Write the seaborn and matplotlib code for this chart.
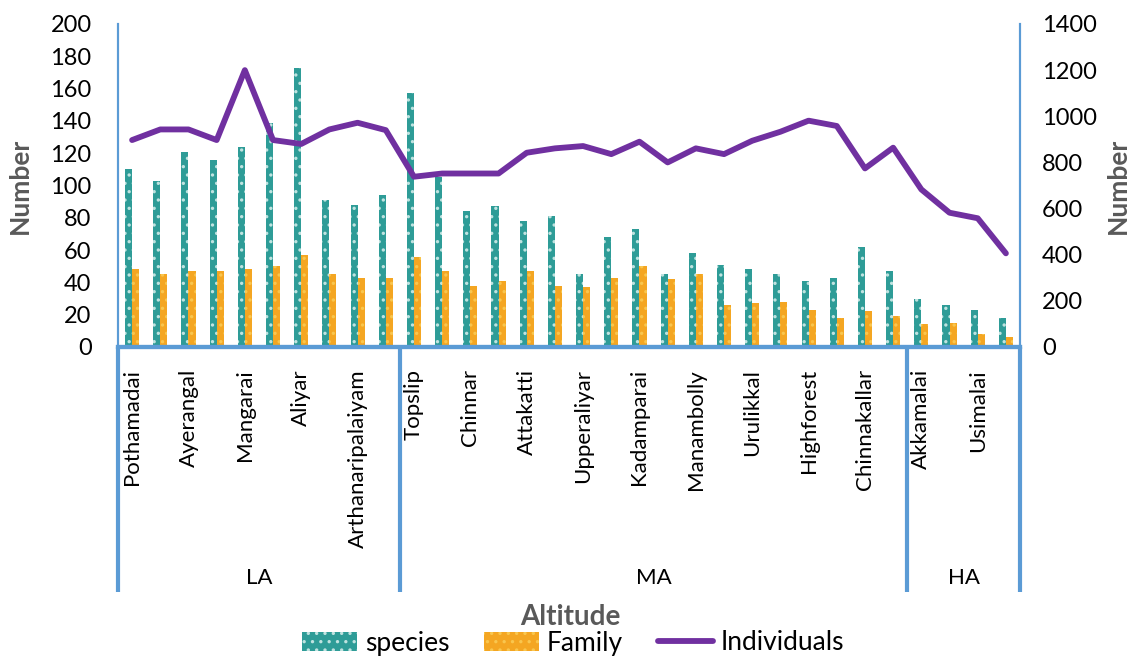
import matplotlib
matplotlib.use("Agg")
import matplotlib.pyplot as plt
import matplotlib.transforms as mtransforms
from matplotlib.patches import Patch
from matplotlib.lines import Line2D
import numpy as np
import pandas as pd
import seaborn as sns

# Sampling sites, ordered by altitude zone (only every other name is printed on the axis)
site_labels = [
    "Pothamadai", "", "Ayerangal", "", "Mangarai", "", "Aliyar", "", "Arthanaripalaiyam", "",
    "Topslip", "", "Chinnar", "", "Attakatti", "", "Upperaliyar", "", "Kadamparai", "",
    "Manambolly", "", "Urulikkal", "", "Highforest", "", "Chinnakallar", "",
    "Akkamalai", "", "Usimalai", "",
]
zones = ["LA", "MA", "HA"]
zone_sizes = [10, 18, 4]

species = [110, 103, 121, 116, 124, 139, 173, 91, 88, 94,
           157, 105, 84, 87, 78, 81, 45, 68, 73, 45, 58, 51, 48, 45, 41, 43, 62, 47,
           30, 26, 23, 18]
family = [48, 45, 47, 47, 48, 50, 57, 45, 43, 43,
          56, 47, 38, 41, 47, 38, 37, 43, 50, 42, 45, 26, 27, 28, 23, 18, 22, 19,
          14, 15, 8, 6]
individuals = [897, 943, 943, 897, 1200, 897, 880, 943, 972, 940,
               738, 752, 752, 752, 842, 861, 871, 836, 890, 800, 861, 836, 894, 933, 981, 958, 774, 864,
               683, 582, 558, 406]

TEAL = "#2E9C97"
ORANGE = "#F4A622"
PURPLE = "#7030A0"
FRAME = "#5B9BD5"
GREY = "#595959"

sns.set_theme(style="white")
plt.rcParams["font.family"] = ["Lato", "DejaVu Sans"]
plt.rcParams["hatch.linewidth"] = 1.2
plt.rcParams["text.color"] = "black"
plt.rcParams["xtick.color"] = "black"
plt.rcParams["ytick.color"] = "black"

n = len(species)
pos = list(range(n))
df = pd.DataFrame({
    "pos": pos * 2,
    "value": species + family,
    "series": ["species"] * n + ["Family"] * n,
})

fig = plt.figure(figsize=(11.29, 6.64), dpi=100)
ax = fig.add_axes([118 / 1129, 1 - 347 / 664, (1020 - 118) / 1129, (347 - 24) / 664])

sns.barplot(data=df, x="pos", y="value", hue="series", hue_order=["species", "Family"],
            palette={"species": TEAL, "Family": ORANGE}, width=0.5, ax=ax,
            legend=False, saturation=1)

for bar in ax.containers[0]:
    bar.set_hatch("..")
    bar.set_edgecolor("#BFE3E0")
    bar.set_linewidth(0)
for bar in ax.containers[1]:
    bar.set_hatch("..")
    bar.set_edgecolor("#F9C64E")
    bar.set_linewidth(0)

ax2 = ax.twinx()
sns.lineplot(x=pos, y=individuals, color=PURPLE, lw=4.2, ax=ax2)

ax.set_xlim(-0.5, n - 0.5)
ax.set_ylim(0, 200)
ax2.set_ylim(0, 1400)
ax.set_yticks(np.arange(0, 201, 20))
ax2.set_yticks(np.arange(0, 1401, 200))
ax.set_xticks(pos)
ax.set_xticklabels(site_labels, rotation=90, fontsize=16, va="top", color="black")
ax.tick_params(axis="x", length=0, pad=16, labelcolor="black")
ax.tick_params(axis="y", length=0, labelsize=17, pad=19, labelcolor="black")
ax2.tick_params(axis="y", length=0, labelsize=17, pad=16, labelcolor="black")
ax.set_xlabel("")
ax.set_ylabel("")
ax2.set_ylabel("")

for a in (ax, ax2):
    a.spines["top"].set_visible(False)
    a.spines["left"].set_color(FRAME)
    a.spines["right"].set_color(FRAME)
    a.spines["left"].set_linewidth(1.5)
    a.spines["right"].set_linewidth(1.5)
    a.spines["bottom"].set_color(FRAME)
    a.spines["bottom"].set_linewidth(3)
    a.grid(False)

# Zone brackets under the site names
trans = mtransforms.blended_transform_factory(ax.transData, ax.transAxes)
edges = np.concatenate([[0], np.cumsum(zone_sizes)]) - 0.5
for e in edges:
    ax.plot([e, e], [0, -0.76], color=FRAME, lw=3, transform=trans, clip_on=False,
            solid_capstyle="butt")
for z, lo, hi in zip(zones, edges[:-1], edges[1:]):
    ax.text((lo + hi) / 2, -0.716, z, transform=trans, ha="center", va="center",
            fontsize=16, color="black")

fig.text(20 / 1129, 1 - 186 / 664, "Number", rotation=90, ha="center", va="center",
         fontsize=19, fontweight="bold", color=GREY)
fig.text(1118 / 1129, 1 - 186 / 664, "Number", rotation=90, ha="center", va="center",
         fontsize=19, fontweight="bold", color=GREY)
fig.text(570 / 1129, 1 - 617 / 664, "Altitude", ha="center", va="center",
         fontsize=20, fontweight="bold", color=GREY)

handles = [
    Patch(facecolor=TEAL, edgecolor="#BFE3E0", hatch="..", linewidth=0),
    Patch(facecolor=ORANGE, edgecolor="#F9C64E", hatch="..", linewidth=0),
    Line2D([0], [0], color=PURPLE, lw=4.2),
]
fig.legend(handles, ["species", "Family", "Individuals"], loc="center",
           bbox_to_anchor=(573 / 1129, 1 - 643 / 664), ncol=3, frameon=False,
           fontsize=19, handlelength=2.1, handleheight=0.7, handletextpad=0.3,
           columnspacing=1.3, borderpad=0)

fig.savefig("out.png", dpi=100)
